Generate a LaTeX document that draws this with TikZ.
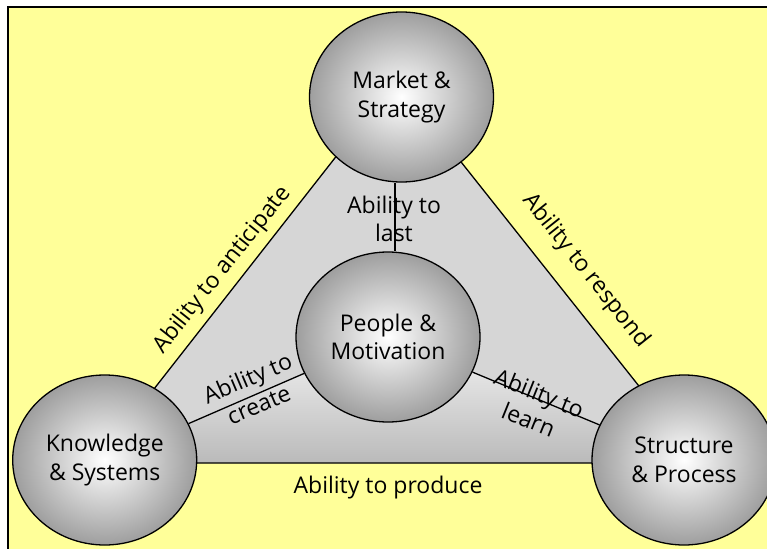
\documentclass[tikz,border=0pt]{standalone}
\usepackage{fontspec}
\setmainfont{Open Sans}
\usetikzlibrary{shapes.geometric}
\definecolor{bgyellow}{RGB}{255,255,153}
\definecolor{trigray}{RGB}{214,214,214}
\begin{document}
\begin{tikzpicture}[x=1pt,y=-1pt,
  hub/.style={ellipse, draw=black, line width=1.3pt, minimum width=184pt, minimum height=170pt,
    inner sep=0pt, inner color=white, outer color=black!38, align=center,
    font=\fontsize{23}{28.7}\selectfont},
  lbl/.style={align=center, font=\fontsize{23}{28.7}\selectfont, inner sep=0pt},
  linkline/.style={line width=1.3pt}]
\useasboundingbox (0,0) rectangle (767,548);
\clip (0,0) rectangle (767,548);
\fill[white] (0,0) rectangle (767,548);
\draw[line width=2pt, fill=bgyellow] (8,7) rectangle (790,570);
% triangle
\coordinate (tl) at (96,463);
\coordinate (tr) at (700,463);
\coordinate (tt) at (396,80);
\coordinate (kc) at (104.7,460);
\coordinate (pc) at (388,337);
\coordinate (sc) at (684,460);
\coordinate (mc) at (401.5,97);
\coordinate (vx) at (395,200);
\fill[trigray] (tl) -- (tt) -- (tr) -- cycle;
\shade[top color=white!96!black, bottom color=white!73!black]
  (kc) -- (pc) -- (sc) -- (sc |- tl) -- (kc |- tl) -- cycle;
\draw[linkline, line join=miter] (tl) -- (tt) -- (tr) -- cycle;
% hubs
\node[hub] (M) at (mc) {Market \&\\Strategy};
\node[hub] (P) at (pc) {People \&\\Motivation};
\node[hub] (K) at (kc) {Knowledge\\\& Systems};
\node[hub] (S) at (sc) {Structure\\\& Process};
% inner links
\draw[linkline] (K) -- (P);
\draw[linkline] (P) -- (S);
\draw[linkline] (M.south -| vx) -- (P.north -| vx);
% labels
\node[lbl] (lant) at (222.5,270) [rotate=51.5] {Ability to anticipate};
\node[lbl] (lres) at (586,271) [rotate=-51.5] {Ability to respond};
\node[lbl] (llas) at (394,219) {Ability to\\last};
\node[lbl] (lcre) at (253,391) [rotate=23] {Ability to\\create};
\node[lbl] (llea) at (534,406) [rotate=-22] {Ability to\\learn};
\node[lbl] (lpro) at (388,488) {Ability to produce};
\end{tikzpicture}
\end{document}
